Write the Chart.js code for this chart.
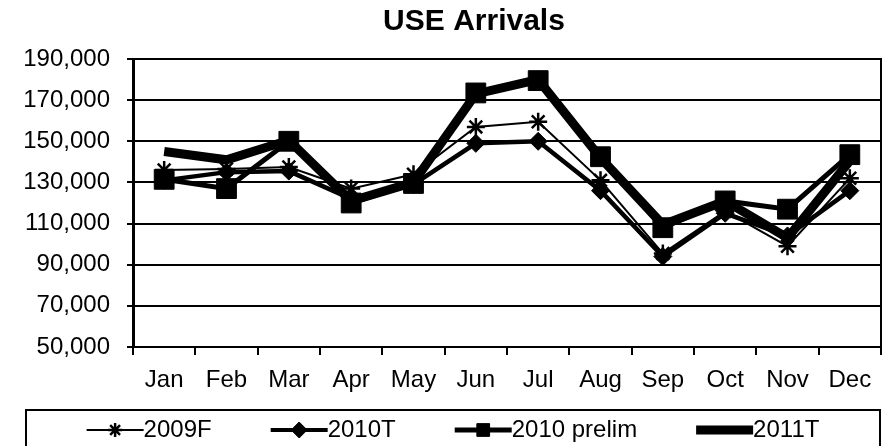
<!DOCTYPE html>
<html><head><meta charset="utf-8">
<script src="https://cdn.jsdelivr.net/npm/chart.js@4/dist/chart.umd.min.js"></script>
<style>html,body{margin:0;padding:0;background:#fff}#wrap{width:896px;height:446px}</style>
</head><body><div id="wrap"><canvas id="c" width="896" height="446"></canvas></div>
<script>
const chartTitle = 'USE Arrivals';
const months = ['Jan','Feb','Mar','Apr','May','Jun','Jul','Aug','Sep','Oct','Nov','Dec'];
const s2009F = [136000, 136500, 137500, 127000, 134000, 157000, 159500, 131000, 95500, 116000, 99000, 132000];
const s2010T = [131000, 135000, 135500, 122000, 129000, 149000, 150000, 126000, 94000, 115000, 104000, 126000];
const s2010prelim = [131500, 127000, 150000, 120000, 129500, 173500, 179500, 142500, 108000, 121000, 117000, 143500];
const s2011T = [145000, 141000, 150500, 121000, 130000, 173000, 180000, 142000, 109500, 121000, 103000, 140500];
const seriesNames = ['2009F', '2010T', '2010 prelim', '2011T'];
const yTicks = {min: 50000, max: 190000, step: 20000};

const FONT = '"Liberation Sans", Arial, sans-serif';

const decorPlugin = {
  id: 'decor',
  afterDraw(chart) {
    const ctx = chart.ctx;
    const ca = chart.chartArea;
    ctx.save();
    // title (Excel places it slightly left of plot centre)
    ctx.fillStyle = '#000';
    ctx.font = 'bold 30px ' + FONT;
    ctx.textAlign = 'center';
    ctx.textBaseline = 'middle';
    ctx.fillText(chartTitle, (ca.left + ca.right) / 2 - 33, 22);

    // right border of plot area
    ctx.strokeStyle = '#000';
    ctx.lineWidth = 2;
    ctx.beginPath();
    ctx.moveTo(ca.right, ca.top - 1);
    ctx.lineTo(ca.right, ca.bottom + 1);
    ctx.stroke();

    // legend box
    const left = 26, right = ca.right - 1, top = 410, midY = 430;
    ctx.strokeRect(left, top, right - left, 80);
    ctx.font = '24px ' + FONT;
    ctx.textBaseline = 'middle';
    const sampleW = 57, gap = 59;
    const items = chart.data.datasets.map(ds => ({ds, tw: ctx.measureText(ds.label).width}));
    const total = items.reduce((a, it) => a + sampleW + it.tw, 0) + gap * (items.length - 1);
    let x = (left + right) / 2 - total / 2;
    items.forEach(({ds, tw}) => {
      ctx.beginPath();
      ctx.lineWidth = ds.legendLine;
      ctx.strokeStyle = '#000';
      ctx.moveTo(x, midY);
      ctx.lineTo(x + sampleW, midY);
      ctx.stroke();
      if (ds.pointStyle && ds.pointRadius > 0) {
        ctx.fillStyle = '#000';
        ctx.strokeStyle = '#000';
        ctx.lineWidth = ds.pointBorderWidth;
        Chart.helpers.drawPoint(ctx, {pointStyle: ds.pointStyle, radius: ds.legendRadius, borderWidth: ds.pointBorderWidth, rotation: 0}, x + sampleW / 2, midY);
      }
      ctx.fillStyle = '#000';
      ctx.textAlign = 'left';
      ctx.fillText(ds.label, x + sampleW, midY);
      x += sampleW + tw + gap;
    });
    ctx.restore();
  }
};

new Chart(document.getElementById('c'), {
  type: 'line',
  data: {
    labels: months,
    datasets: [
      {label: seriesNames[0], data: s2009F, borderColor: '#000', backgroundColor: '#000', borderWidth: 2,
       pointStyle: 'star', pointRadius: 9, pointBorderWidth: 2.5, pointBorderColor: '#000', pointBackgroundColor: '#000',
       legendLine: 2, legendRadius: 7, order: 4, tension: 0},
      {label: seriesNames[1], data: s2010T, borderColor: '#000', backgroundColor: '#000', borderWidth: 4.5,
       pointStyle: 'rectRot', pointRadius: 9, pointBorderWidth: 1, pointBorderColor: '#000', pointBackgroundColor: '#000',
       legendLine: 4, legendRadius: 8, order: 3, tension: 0},
      {label: seriesNames[2], data: s2010prelim, borderColor: '#000', backgroundColor: '#000', borderWidth: 5,
       pointStyle: 'rect', pointRadius: 14, pointBorderWidth: 1, pointBorderColor: '#000', pointBackgroundColor: '#000',
       legendLine: 5, legendRadius: 9, order: 2, tension: 0},
      {label: seriesNames[3], data: s2011T, borderColor: '#000', backgroundColor: '#000', borderWidth: 9,
       pointStyle: false, pointRadius: 0,
       legendLine: 9, legendRadius: 0, order: 1, tension: 0}
    ]
  },
  options: {
    responsive: false,
    animation: false,
    layout: {padding: {left: 0, right: 8, top: 59, bottom: 52}},
    plugins: {
      legend: {display: false},
      tooltip: {enabled: false},
      title: {display: false}
    },
    scales: {
      x: {
        offset: true,
        grid: {offset: true, drawOnChartArea: false, drawTicks: true, tickLength: 8, color: '#000', lineWidth: 2},
        border: {color: '#000', width: 2},
        ticks: {color: '#000', font: {family: FONT, size: 24}, padding: 11, maxRotation: 0, autoSkip: false},
        afterFit(s) { s.height = 47; }
      },
      y: {
        min: yTicks.min, max: yTicks.max,
        grid: {color: '#000', lineWidth: 2, tickLength: 6},
        border: {color: '#000', width: 3},
        ticks: {stepSize: yTicks.step, color: '#000', font: {family: FONT, size: 24}, padding: 17},
        afterFit(s) { s.width = 133; }
      }
    }
  },
  plugins: [decorPlugin]
});
</script>
</body></html>
